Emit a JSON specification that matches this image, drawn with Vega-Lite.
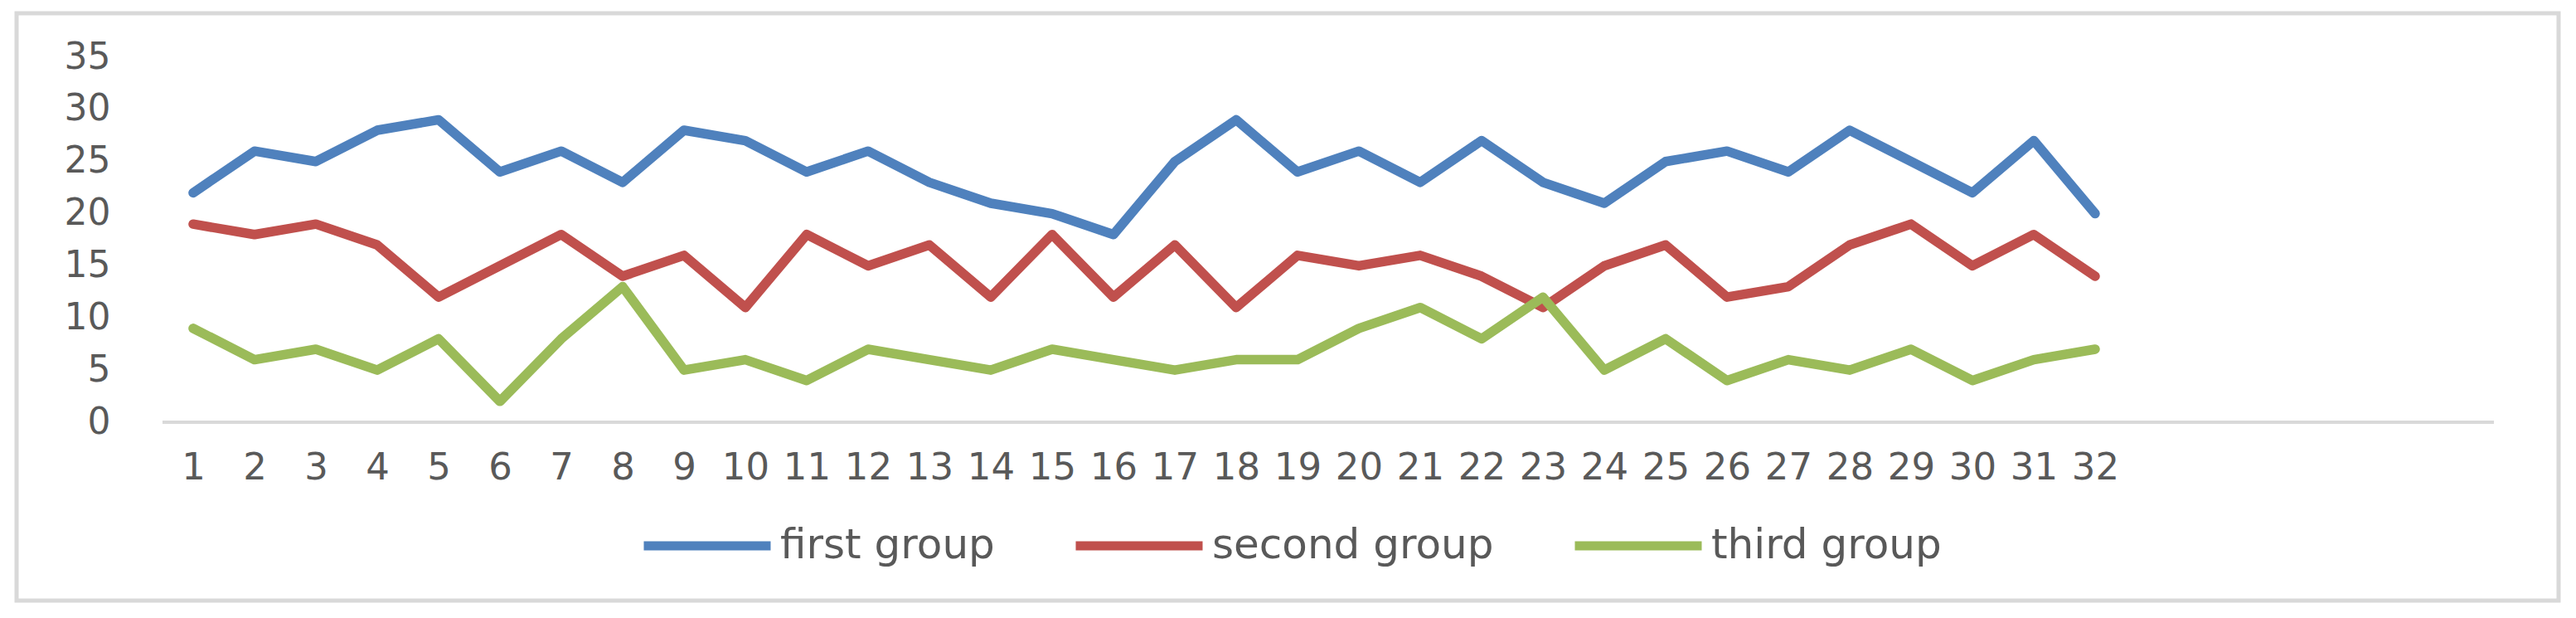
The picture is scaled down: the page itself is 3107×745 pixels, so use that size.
{
  "$schema": "https://vega.github.io/schema/vega-lite/v6.json",
  "width": 3066,
  "height": 708,
  "autosize": {"type": "none"},
  "padding": {"left": 20, "top": 16, "right": 21, "bottom": 21},
  "background": "white",
  "config": {
    "view": {"stroke": "#D9D9D9", "strokeWidth": 5},
    "font": "DejaVu Sans"
  },
  "layer": [
    {
      "data": {"values": [{}]},
      "mark": {"type": "rule", "color": "#D9D9D9", "strokeWidth": 4},
      "encoding": {
        "x": {"datum": 0.5, "type": "quantitative",
          "scale": {"domain": [-1.878, 39.554], "nice": false, "zero": false},
          "axis": {"orient": "bottom", "offset": -215, "values": [1,2,3,4,5,6,7,8,9,10,11,12,13,14,15,16,17,18,19,20,21,22,23,24,25,26,27,28,29,30,31,32], "format": "d", "domain": false, "ticks": false, "tickSize": 0, "grid": false, "labelPadding": 32, "labelFontSize": 45, "labelColor": "#595959", "labelFont": "DejaVu Sans", "title": null, "labelOverlap": false, "labelFlush": false}},
        "x2": {"datum": 38.5},
        "y": {"datum": 0, "type": "quantitative",
          "scale": {"domain": [-17.102, 39.216], "nice": false, "zero": false},
          "axis": {"values": [0,5,10,15,20,25,30,35], "domain": false, "ticks": false, "tickSize": 0, "grid": false, "labelPadding": -113, "labelAlign": "right", "labelFontSize": 44, "labelColor": "#595959", "labelFont": "DejaVu Sans", "title": null}}
      }
    },
    {
      "data": {"values": [
        {"i":1,"g":"first group","v":22},{"i":2,"g":"first group","v":26},{"i":3,"g":"first group","v":25},{"i":4,"g":"first group","v":28},
        {"i":5,"g":"first group","v":29},{"i":6,"g":"first group","v":24},{"i":7,"g":"first group","v":26},{"i":8,"g":"first group","v":23},
        {"i":9,"g":"first group","v":28},{"i":10,"g":"first group","v":27},{"i":11,"g":"first group","v":24},{"i":12,"g":"first group","v":26},
        {"i":13,"g":"first group","v":23},{"i":14,"g":"first group","v":21},{"i":15,"g":"first group","v":20},{"i":16,"g":"first group","v":18},
        {"i":17,"g":"first group","v":25},{"i":18,"g":"first group","v":29},{"i":19,"g":"first group","v":24},{"i":20,"g":"first group","v":26},
        {"i":21,"g":"first group","v":23},{"i":22,"g":"first group","v":27},{"i":23,"g":"first group","v":23},{"i":24,"g":"first group","v":21},
        {"i":25,"g":"first group","v":25},{"i":26,"g":"first group","v":26},{"i":27,"g":"first group","v":24},{"i":28,"g":"first group","v":28},
        {"i":29,"g":"first group","v":25},{"i":30,"g":"first group","v":22},{"i":31,"g":"first group","v":27},{"i":32,"g":"first group","v":20},
        {"i":1,"g":"second group","v":19},{"i":2,"g":"second group","v":18},{"i":3,"g":"second group","v":19},{"i":4,"g":"second group","v":17},
        {"i":5,"g":"second group","v":12},{"i":6,"g":"second group","v":15},{"i":7,"g":"second group","v":18},{"i":8,"g":"second group","v":14},
        {"i":9,"g":"second group","v":16},{"i":10,"g":"second group","v":11},{"i":11,"g":"second group","v":18},{"i":12,"g":"second group","v":15},
        {"i":13,"g":"second group","v":17},{"i":14,"g":"second group","v":12},{"i":15,"g":"second group","v":18},{"i":16,"g":"second group","v":12},
        {"i":17,"g":"second group","v":17},{"i":18,"g":"second group","v":11},{"i":19,"g":"second group","v":16},{"i":20,"g":"second group","v":15},
        {"i":21,"g":"second group","v":16},{"i":22,"g":"second group","v":14},{"i":23,"g":"second group","v":11},{"i":24,"g":"second group","v":15},
        {"i":25,"g":"second group","v":17},{"i":26,"g":"second group","v":12},{"i":27,"g":"second group","v":13},{"i":28,"g":"second group","v":17},
        {"i":29,"g":"second group","v":19},{"i":30,"g":"second group","v":15},{"i":31,"g":"second group","v":18},{"i":32,"g":"second group","v":14},
        {"i":1,"g":"third group","v":9},{"i":2,"g":"third group","v":6},{"i":3,"g":"third group","v":7},{"i":4,"g":"third group","v":5},
        {"i":5,"g":"third group","v":8},{"i":6,"g":"third group","v":2},{"i":7,"g":"third group","v":8},{"i":8,"g":"third group","v":13},
        {"i":9,"g":"third group","v":5},{"i":10,"g":"third group","v":6},{"i":11,"g":"third group","v":4},{"i":12,"g":"third group","v":7},
        {"i":13,"g":"third group","v":6},{"i":14,"g":"third group","v":5},{"i":15,"g":"third group","v":7},{"i":16,"g":"third group","v":6},
        {"i":17,"g":"third group","v":5},{"i":18,"g":"third group","v":6},{"i":19,"g":"third group","v":6},{"i":20,"g":"third group","v":9},
        {"i":21,"g":"third group","v":11},{"i":22,"g":"third group","v":8},{"i":23,"g":"third group","v":12},{"i":24,"g":"third group","v":5},
        {"i":25,"g":"third group","v":8},{"i":26,"g":"third group","v":4},{"i":27,"g":"third group","v":6},{"i":28,"g":"third group","v":5},
        {"i":29,"g":"third group","v":7},{"i":30,"g":"third group","v":4},{"i":31,"g":"third group","v":6},{"i":32,"g":"third group","v":7}
      ]},
      "mark": {"type": "line", "strokeWidth": 11.5, "strokeCap": "round", "strokeJoin": "round"},
      "encoding": {
        "x": {"field": "i", "type": "quantitative",
          "scale": {"domain": [-1.878, 39.554], "nice": false, "zero": false},
          "axis": {"orient": "bottom", "offset": -215, "values": [1,2,3,4,5,6,7,8,9,10,11,12,13,14,15,16,17,18,19,20,21,22,23,24,25,26,27,28,29,30,31,32], "format": "d", "domain": false, "ticks": false, "tickSize": 0, "grid": false, "labelPadding": 32, "labelFontSize": 45, "labelColor": "#595959", "labelFont": "DejaVu Sans", "title": null, "labelOverlap": false, "labelFlush": false}},
        "y": {"field": "v", "type": "quantitative",
          "scale": {"domain": [-17.102, 39.216], "nice": false, "zero": false},
          "axis": {"values": [0,5,10,15,20,25,30,35], "domain": false, "ticks": false, "tickSize": 0, "grid": false, "labelPadding": -113, "labelAlign": "right", "labelFontSize": 44, "labelColor": "#595959", "labelFont": "DejaVu Sans", "title": null}},
        "color": {"field": "g", "type": "nominal",
          "scale": {"domain": ["first group", "second group", "third group"], "range": ["#4F81BD", "#C0504D", "#9BBB59"]},
          "legend": {"title": null, "orient": "none", "direction": "horizontal", "legendX": 751, "legendY": 560,
            "symbolType": "stroke", "symbolSize": 23409, "symbolStrokeWidth": 11,
            "labelFontSize": 50, "labelFont": "DejaVu Sans", "labelColor": "#595959", "labelOffset": 6, "columnPadding": 75, "labelLimit": 1000}}
      }
    }
  ]
}
